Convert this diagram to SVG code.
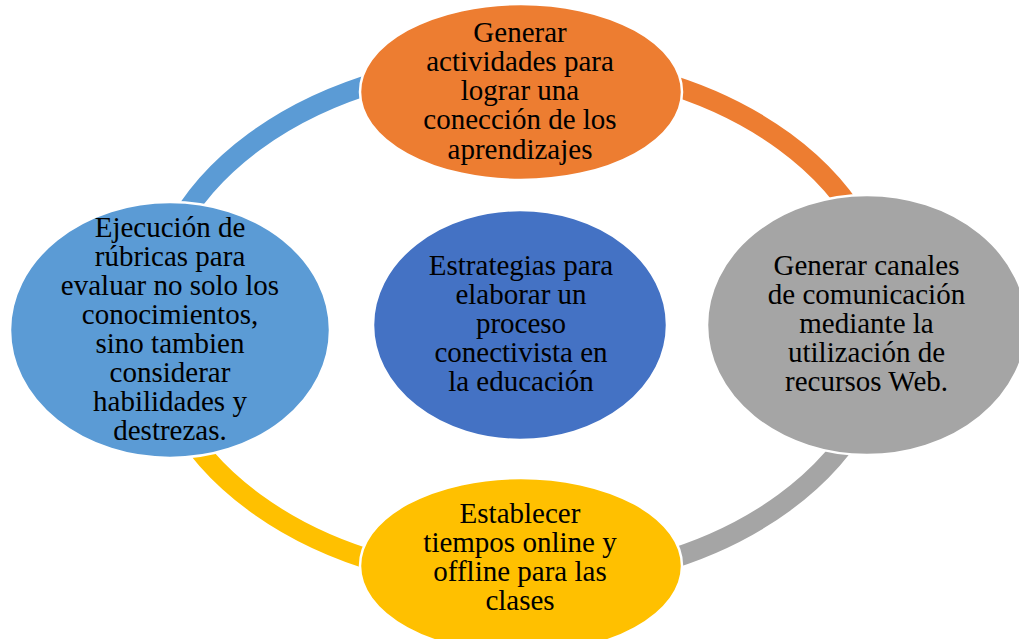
<svg xmlns="http://www.w3.org/2000/svg" width="1019" height="639" viewBox="0 0 1019 639">
<style>
.arc{fill:none;stroke-width:20;stroke-linecap:butt}
.node{stroke:#FFFFFF;stroke-width:2.5}
text{font-family:"Liberation Serif","Times New Roman",serif;font-size:29px;fill:#000000;text-anchor:middle}
</style>
<rect x="0" y="0" width="1019" height="639" fill="#FFFFFF"/>
<g id="connectors">
<path class="arc" stroke="#5B9BD5" d="M173.7 233.1 A368 260 0 0 1 381.6 80.9"/>
<path class="arc" stroke="#ED7D31" d="M657.4 80.9 A368 260 0 0 1 865.3 233.1"/>
<path class="arc" stroke="#A5A5A5" d="M865.3 410.9 A368 260 0 0 1 657.4 563.1"/>
<path class="arc" stroke="#FFC000" d="M381.6 563.1 A368 260 0 0 1 173.7 410.9"/>
</g>
<g id="node-top">
<ellipse class="node" cx="521" cy="92" rx="161" ry="88" fill="#ED7D31"/>
<text x="520" y="41.5">Generar</text>
<text x="520" y="70.8">actividades para</text>
<text x="520" y="100.1">lograr una</text>
<text x="520" y="129.4">conección de los</text>
<text x="520" y="158.7">aprendizajes</text>
</g>
<g id="node-right">
<ellipse class="node" cx="867" cy="325" rx="160" ry="130" fill="#A5A5A5"/>
<text x="866.5" y="275">Generar canales</text>
<text x="866.5" y="304">de comunicación</text>
<text x="866.5" y="333">mediante la</text>
<text x="866.5" y="362">utilización de</text>
<text x="866.5" y="391">recursos Web.</text>
</g>
<g id="node-bottom">
<ellipse class="node" cx="521" cy="566" rx="161" ry="88" fill="#FFC000"/>
<text x="520" y="523">Establecer</text>
<text x="520" y="552">tiempos online y</text>
<text x="520" y="581">offline para las</text>
<text x="520" y="610">clases</text>
</g>
<g id="node-left">
<ellipse class="node" cx="170" cy="330" rx="160" ry="128" fill="#5B9BD5"/>
<text x="170" y="237">Ejecución de</text>
<text x="170" y="266">rúbricas para</text>
<text x="170" y="295">evaluar no solo los</text>
<text x="170" y="324">conocimientos,</text>
<text x="170" y="353">sino tambien</text>
<text x="170" y="382">considerar</text>
<text x="170" y="411">habilidades y</text>
<text x="170" y="440">destrezas.</text>
</g>
<g id="node-center">
<ellipse class="node" cx="520" cy="325" rx="147" ry="115" fill="#4472C4"/>
<text x="521" y="275">Estrategias para</text>
<text x="521" y="304">elaborar un</text>
<text x="521" y="333">proceso</text>
<text x="521" y="362">conectivista en</text>
<text x="521" y="391">la educación</text>
</g>
</svg>
